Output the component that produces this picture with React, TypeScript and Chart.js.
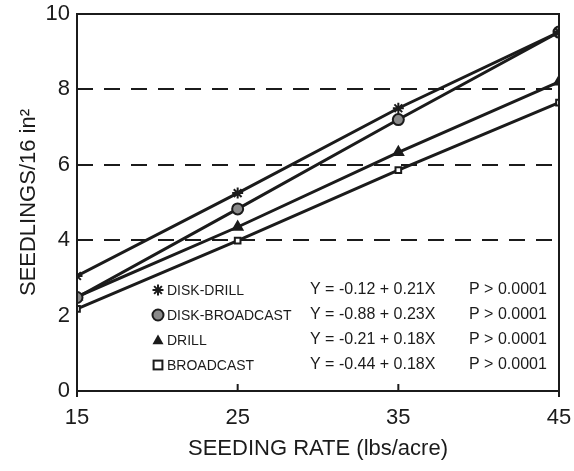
import React, { useEffect, useRef } from 'react';
import { Chart, registerables } from 'chart.js';

Chart.register(...registerables);

const seedingRates = [15, 25, 35, 45];
const diskDrill = [3.05, 5.25, 7.5, 9.52];
const diskBroadcast = [2.48, 4.83, 7.2, 9.52];
const drill = [2.5, 4.35, 6.33, 8.2];
const broadcast = [2.18, 3.99, 5.86, 7.65];

const seriesNames = ['DISK-DRILL', 'DISK-BROADCAST', 'DRILL', 'BROADCAST'];
const equations = ['Y = -0.12 + 0.21X', 'Y = -0.88 + 0.23X', 'Y = -0.21 + 0.18X', 'Y = -0.44 + 0.18X'];
const pValues = ['P > 0.0001', 'P > 0.0001', 'P > 0.0001', 'P > 0.0001'];
const xTickValues = [15, 25, 35, 45];
const dashedLevels = [4, 6, 8];

const INK = '#1b1b1b';
const FONT = '"Liberation Sans", Arial, Helvetica, sans-serif';
const markerKinds = ['star', 'circle', 'triangle', 'rect'];

function drawMarker(ctx: CanvasRenderingContext2D, kind: string, x: number, y: number, r: number) {
  ctx.save();
  ctx.strokeStyle = INK;
  ctx.fillStyle = INK;
  ctx.lineWidth = 2;
  if (kind === 'star') {
    ctx.beginPath();
    for (let i = 0; i < 4; i++) {
      const ang = (i * Math.PI) / 4;
      ctx.moveTo(x - Math.cos(ang) * r, y - Math.sin(ang) * r);
      ctx.lineTo(x + Math.cos(ang) * r, y + Math.sin(ang) * r);
    }
    ctx.stroke();
  } else if (kind === 'circle') {
    ctx.beginPath();
    ctx.arc(x, y, r, 0, Math.PI * 2);
    ctx.fillStyle = '#8a8a8a';
    ctx.fill();
    ctx.stroke();
  } else if (kind === 'triangle') {
    ctx.beginPath();
    ctx.moveTo(x, y - r);
    ctx.lineTo(x + r, y + r * 0.75);
    ctx.lineTo(x - r, y + r * 0.75);
    ctx.closePath();
    ctx.fill();
  } else {
    ctx.fillStyle = '#ffffff';
    ctx.fillRect(x - r * 0.8, y - r * 0.8, r * 1.6, r * 1.6);
    ctx.strokeRect(x - r * 0.8, y - r * 0.8, r * 1.6, r * 1.6);
  }
  ctx.restore();
}

const decorPlugin = {
  id: 'decor',
  afterDraw(chart: any) {
    const { ctx, chartArea: a, scales } = chart;
    ctx.save();
    ctx.strokeStyle = INK;
    ctx.lineWidth = 2;
    ctx.strokeRect(a.left, a.top, a.right - a.left, a.bottom - a.top);
    xTickValues.forEach((v) => {
      const x = scales.x.getPixelForValue(v);
      ctx.beginPath();
      if (v === xTickValues[0] || v === xTickValues[xTickValues.length - 1]) {
        ctx.moveTo(x, a.bottom);
        ctx.lineTo(x, a.bottom + 6);
      } else {
        ctx.moveTo(x, a.bottom - 7);
        ctx.lineTo(x, a.bottom + 1);
      }
      ctx.stroke();
    });
    // legend block
    const rowY = [290, 315, 340, 365];
    ctx.fillStyle = INK;
    ctx.textBaseline = 'middle';
    seriesNames.forEach((name, i) => {
      const y = rowY[i];
      drawMarker(ctx, markerKinds[i], 158, y, 5.5);
      ctx.font = `14px ${FONT}`;
      ctx.textAlign = 'left';
      ctx.fillText(name, 167, y + 1);
      ctx.font = `16px ${FONT}`;
      ctx.fillText(equations[i], 310, y);
      ctx.fillText(pValues[i], 469, y);
    });
    ctx.restore();
  },
};

export default function App() {
  const canvasRef = useRef<HTMLCanvasElement | null>(null);

  useEffect(() => {
    document.body.style.margin = '0';
    const canvas = canvasRef.current;
    if (!canvas) return;
    const mk = (label: string, values: number[], kind: string) => ({
      label,
      data: seedingRates.map((x, i) => ({ x, y: values[i] })),
      borderColor: INK,
      borderWidth: 3,
      pointStyle: kind,
      pointRadius: kind === 'rect' ? 4 : 5.5,
      pointBorderWidth: 2,
      pointBorderColor: INK,
      pointBackgroundColor: kind === 'circle' ? '#8a8a8a' : kind === 'rect' ? '#ffffff' : INK,
      tension: 0,
    });
    const chart = new Chart(canvas, {
      type: 'line',
      data: {
        datasets: [
          mk(seriesNames[0], diskDrill, 'star'),
          mk(seriesNames[1], diskBroadcast, 'circle'),
          mk(seriesNames[2], drill, 'triangle'),
          mk(seriesNames[3], broadcast, 'rect'),
        ],
      },
      options: {
        animation: false,
        responsive: false,
        devicePixelRatio: 1,
        layout: { padding: { left: 0, top: 14, right: 15, bottom: 0 } },
        plugins: { legend: { display: false }, tooltip: { enabled: false } },
        scales: {
          x: {
            type: 'linear',
            min: 15,
            max: 45,
            afterFit: (s: any) => {
              s.height = 80;
              s.paddingLeft = 0;
              s.paddingRight = 0;
            },
            afterBuildTicks: (s: any) => { s.ticks = xTickValues.map((v) => ({ value: v })); },
            grid: { display: false, drawTicks: false },
            border: { display: false },
            ticks: { color: INK, font: { family: FONT, size: 22 }, padding: 14, maxRotation: 0 },
            title: {
              display: true,
              text: 'SEEDING RATE (lbs/acre)',
              color: INK,
              font: { family: FONT, size: 22 },
              padding: { top: 0, bottom: 9 },
            },
          },
          y: {
            type: 'linear',
            min: 0,
            max: 10,
            afterFit: (s: any) => {
              s.width = 77;
              s.paddingTop = 0;
              s.paddingBottom = 0;
            },
            ticks: { stepSize: 2, color: INK, font: { family: FONT, size: 22 }, padding: 7 },
            grid: {
              drawTicks: false,
              lineWidth: 2,
              color: (c: any) => (dashedLevels.includes(c.tick?.value) ? INK : 'rgba(0,0,0,0)'),
            },
            border: { display: false, dash: [16, 11] },
            title: {
              display: true,
              text: 'SEEDLINGS/16 in²',
              color: INK,
              font: { family: FONT, size: 22 },
              padding: { top: 16, bottom: 0 },
            },
          },
        },
      },
      plugins: [decorPlugin],
    });
    return () => chart.destroy();
  }, []);

  return (
    <div style={{ width: 574, height: 471, background: '#ffffff' }}>
      <canvas ref={canvasRef} width={574} height={471} />
    </div>
  );
}
